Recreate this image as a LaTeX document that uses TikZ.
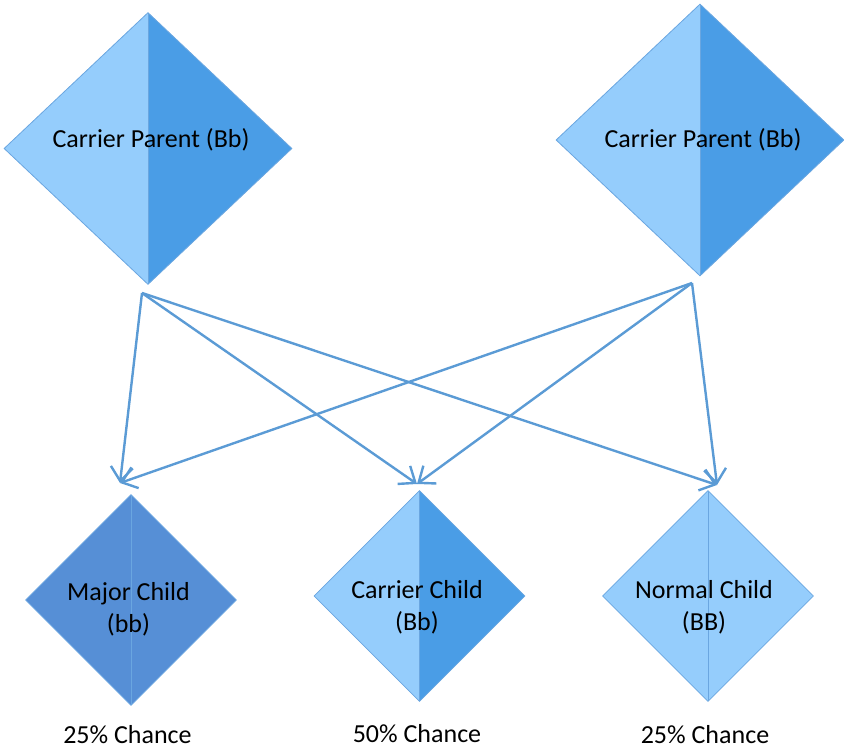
\documentclass[tikz,border=0pt]{standalone}
\usepackage{fontspec}
\setmainfont{Carlito}
\usetikzlibrary{shapes.geometric,arrows.meta}
\definecolor{lightb}{HTML}{95CDFC}
\definecolor{darkb}{HTML}{4A9DE6}
\definecolor{majorb}{HTML}{568FD6}
\definecolor{edgeb}{HTML}{6AA6E0}
\definecolor{arrowb}{HTML}{5B9BD5}
\tikzset{
  dia/.style 2 args={diamond, draw=edgeb, line width=0.8pt, inner sep=0pt,
    path picture={
      \fill[#1] (path picture bounding box.south west) rectangle (path picture bounding box.north);
      \fill[#2] (path picture bounding box.south) rectangle (path picture bounding box.north east);
      \draw[edgeb, line width=0.8pt] (path picture bounding box.north) -- (path picture bounding box.south);
    }},
  big/.style={minimum width=288pt, minimum height=272pt},
  small/.style={minimum width=211pt, minimum height=211pt},
  lbl/.style={font=\fontsize{26}{32}\selectfont, inner sep=0pt, anchor=base, align=center, text=black},
  conn/.style={draw=arrowb, line width=2.4pt, -{Straight Barb[length=14pt, width=22pt, line width=2.4pt]}}
}
\begin{document}
\begin{tikzpicture}[x=1pt,y=-1pt]
\useasboundingbox (0,0) rectangle (844,751);
% diamonds
\node[dia={lightb}{darkb}, big] (p1) at (148,148.5) {};
\node[dia={lightb}{darkb}, big] (p2) at (700,140) {};
\node[dia={majorb}{majorb}, small] (c1) at (131,600) {};
\node[dia={lightb}{darkb}, small] (c2) at (419.5,596) {};
\node[dia={lightb}{lightb}, small] (c3) at (708,596) {};
% labels
\node[lbl] (t1) at (151,148) {Carrier Parent (Bb)};
\node[lbl] (t2) at (703,148) {Carrier Parent (Bb)};
\node[lbl] (t3) at (128.5,632) {Major Child\\(bb)};
\node[lbl] (t4) at (417,630.5) {Carrier Child\\(Bb)};
\node[lbl] (t5) at (704,630) {Normal Child\\(BB)};
\node[lbl] (s1) at (127.5,743.5) {25\% Chance};
\node[lbl] (s2) at (417,742) {50\% Chance};
\node[lbl] (s3) at (705,743.5) {25\% Chance};
% connector ends
\coordinate (o1) at (142,293);
\coordinate (o2) at (692,283);
\coordinate (i1) at (120,483);
\coordinate (i2) at (417,484);
\coordinate (i3) at (717,485);
\draw[conn] (o1) -- (i1);
\draw[conn] (o1) -- (i2);
\draw[conn] (o1) -- (i3);
\draw[conn] (o2) -- (i1);
\draw[conn] (o2) -- (i2);
\draw[conn] (o2) -- (i3);
\end{tikzpicture}
\end{document}
